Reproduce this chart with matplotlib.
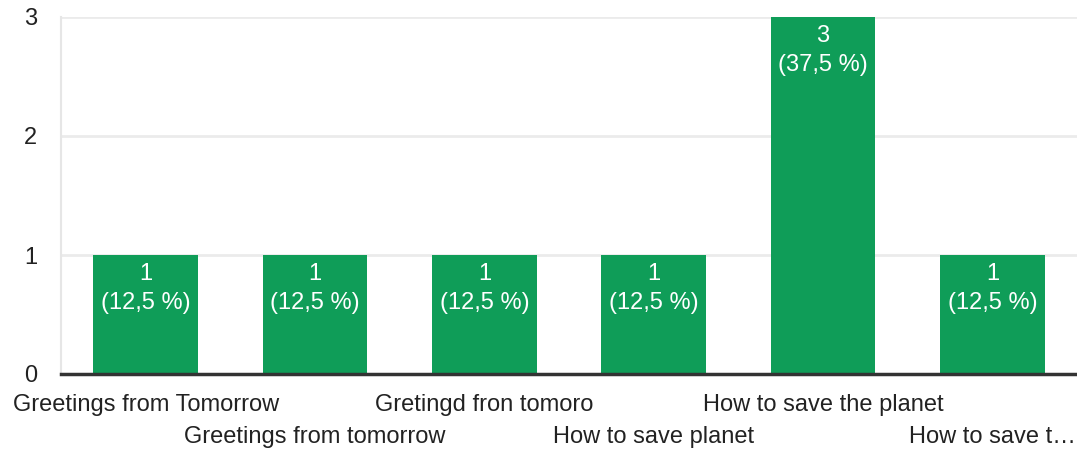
import matplotlib
matplotlib.use("Agg")
import matplotlib.pyplot as plt

categories = ["Greetings from Tomorrow", "Greetings from tomorrow", "Gretingd fron tomoro",
              "How to save planet", "How to save the planet", "How to save t…"]
counts = [1, 1, 1, 1, 3, 1]
percents = ["12,5 %", "12,5 %", "12,5 %", "12,5 %", "37,5 %", "12,5 %"]

plt.rcParams['font.family'] = ['Liberation Sans', 'DejaVu Sans']

fig = plt.figure(figsize=(10.77, 4.51), dpi=100)
ax = fig.add_axes([61 / 1077, 77 / 451, 1016 / 1077, 357 / 451])

x = list(range(len(categories)))
ax.bar(x, counts, width=0.62, color='#0f9d58', zorder=2)

# count + percent inside each bar, near the top
for xi, c, p in zip(x, counts, percents):
    ax.text(xi, c - 0.16, str(c), ha='center', va='center', color='white', fontsize=17)
    ax.text(xi, c - 0.40, "(" + p + ")", ha='center', va='center', color='white', fontsize=17)

ax.set_xlim(-0.5, len(categories) - 0.5)
ax.set_ylim(0, 3)
ax.set_yticks([0, 1, 2, 3])
ax.yaxis.grid(True, color='#ebebeb', linewidth=2, zorder=0)
ax.tick_params(axis='y', length=0, labelsize=17, labelcolor='#222222', pad=17)
ax.tick_params(axis='x', length=0)
ax.set_xticks([])

# staggered category labels
for xi, name in zip(x, categories):
    yoff = -31 if xi % 2 == 0 else -63
    ax.annotate(name, xy=(xi, 0), xycoords='data', xytext=(0, yoff), textcoords='offset pixels',
                ha='center', va='center', fontsize=17, color='#222222', annotation_clip=False)

for s in ['top', 'right']:
    ax.spines[s].set_visible(False)
ax.spines['left'].set_color('#e6e6e6')
ax.spines['left'].set_linewidth(1.5)
ax.spines['bottom'].set_color('#333333')
ax.spines['bottom'].set_linewidth(2.5)
ax.spines['bottom'].set_zorder(3)

fig.savefig("out.png", dpi=100)
